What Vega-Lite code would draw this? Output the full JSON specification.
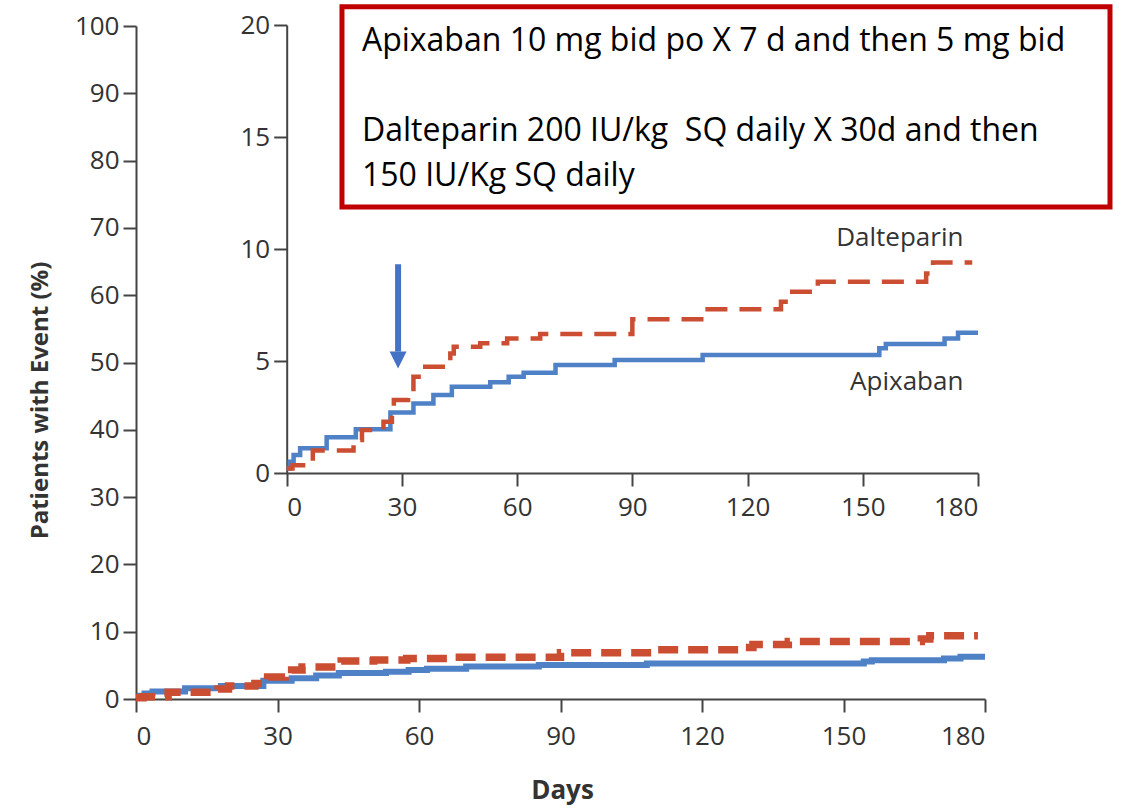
{
  "$schema": "https://vega.github.io/schema/vega-lite/v6.json",
  "width": 849,
  "height": 673,
  "autosize": {"type": "none"},
  "padding": {"left": 136, "top": 26, "right": 137, "bottom": 112},
  "background": "white",
  "config": {
    "view": {"stroke": null},
    "font": "Open Sans",
    "axis": {"grid": false, "domainColor": "#444", "domainWidth": 2, "tickColor": "#444", "tickWidth": 2, "tickSize": 13, "labelColor": "#333", "labelFontSize": 26, "labelFont": "Open Sans", "titleFont": "Open Sans", "titleColor": "#333"}
  },
  "datasets": {
    "apixaban": [{"day":0,"pct":0.2},{"day":0.8,"pct":0.5},{"day":1.8,"pct":0.8},{"day":3.5,"pct":1.1},{"day":10.4,"pct":1.6},{"day":18,"pct":1.95},{"day":27,"pct":2.7},{"day":33,"pct":3.1},{"day":38.2,"pct":3.48},{"day":43,"pct":3.85},{"day":53,"pct":4.05},{"day":57.8,"pct":4.3},{"day":61.7,"pct":4.48},{"day":70,"pct":4.82},{"day":85.4,"pct":5.04},{"day":108.3,"pct":5.27},{"day":154.3,"pct":5.57},{"day":156,"pct":5.76},{"day":171.3,"pct":6.01},{"day":174.8,"pct":6.26},{"day":180,"pct":6.26}],
    "dalteparin": [{"day":0,"pct":0.2},{"day":1.5,"pct":0.35},{"day":6.8,"pct":1.0},{"day":17.4,"pct":1.47},{"day":19.6,"pct":1.92},{"day":25.2,"pct":2.29},{"day":27.4,"pct":2.81},{"day":27.9,"pct":3.26},{"day":31.6,"pct":3.56},{"day":33,"pct":4.3},{"day":35.2,"pct":4.74},{"day":42.6,"pct":5.34},{"day":43.5,"pct":5.64},{"day":50.4,"pct":5.79},{"day":57.4,"pct":6.01},{"day":66,"pct":6.2},{"day":90,"pct":6.86},{"day":109.6,"pct":7.31},{"day":128.7,"pct":7.65},{"day":130.8,"pct":8.09},{"day":138.3,"pct":8.54},{"day":166.5,"pct":8.91},{"day":168.3,"pct":9.4},{"day":178.5,"pct":9.4}],
    "box": [{"x": 43.67, "x2": 206.5, "y": 102.87, "y2": 73.1}],
    "boxtext": [
      {"x": 47.9, "y": 96.3, "t": "Apixaban 10 mg bid po X 7 d and then 5 mg bid"},
      {"x": 47.9, "y": 82.9, "t": "Dalteparin 200 IU/kg\u00a0 SQ daily X 30d and then"},
      {"x": 47.9, "y": 76.2, "t": "150 IU/Kg SQ daily"}
    ],
    "labels": [
      {"name": "Dalteparin", "day": 176.2, "pct": 10.13},
      {"name": "Apixaban", "day": 176.2, "pct": 3.7}
    ],
    "arrow": [{"day": 29, "top": 9.32, "base": 5.42, "head": 5.04}]
  },
  "layer": [
    {
      "layer": [
        {
          "data": {"name": "apixaban"},
          "mark": {"type": "line", "interpolate": "step-after", "color": "#4f81c7", "strokeWidth": 6},
          "encoding": {
            "x": {"field": "day", "type": "quantitative", "scale": {"domain": [0, 180], "nice": false}, "axis": {"values": [0, 30, 60, 90, 120, 150, 180], "labelPadding": 11, "title": "Days", "titleFontSize": 26, "titleFontWeight": "bold", "titleX": 426, "titleY": 99, "titleBaseline": "alphabetic"}},
            "y": {"field": "pct", "type": "quantitative", "scale": {"domain": [0, 100], "nice": false}, "axis": {"values": [0, 10, 20, 30, 40, 50, 60, 70, 80, 90, 100], "labelPadding": 4, "title": "Patients with Event (%)", "titleFontSize": 24, "titleFontWeight": "bold", "titleX": -96, "titleY": 374, "titleBaseline": "middle", "titleAlign": "center", "titleAngle": -90}}
          }
        },
        {
          "data": {"name": "dalteparin"},
          "mark": {"type": "line", "interpolate": "step-after", "color": "#cc4e32", "strokeWidth": 7.5, "strokeDash": [20, 10]},
          "encoding": {
            "x": {"field": "day", "type": "quantitative", "title": "Days"},
            "y": {"field": "pct", "type": "quantitative", "title": "Patients with Event (%)"}
          }
        },
        {
          "data": {"name": "box"},
          "mark": {"type": "rect", "fill": "white", "stroke": "#c00000", "strokeWidth": 5},
          "encoding": {
            "x": {"field": "x", "type": "quantitative", "title": "Days"},
            "x2": {"field": "x2"},
            "y": {"field": "y", "type": "quantitative", "title": "Patients with Event (%)"},
            "y2": {"field": "y2"}
          }
        },
        {
          "data": {"name": "boxtext"},
          "mark": {"type": "text", "align": "left", "baseline": "alphabetic", "fontSize": 32, "color": "#000", "font": "Open Sans"},
          "encoding": {
            "x": {"field": "x", "type": "quantitative", "title": "Days"},
            "y": {"field": "y", "type": "quantitative", "title": "Patients with Event (%)"},
            "text": {"field": "t"}
          }
        }
      ]
    },
    {
      "layer": [
        {
          "data": {"name": "apixaban"},
          "mark": {"type": "line", "interpolate": "step-after", "color": "#4f81c7", "strokeWidth": 4.5},
          "encoding": {
            "x": {"field": "day", "type": "quantitative", "scale": {"domain": [0, 180], "range": [150.7, 842], "nice": false}, "axis": {"orient": "bottom", "offset": -226, "values": [0, 30, 60, 90, 120, 150, 180], "labelPadding": 8, "title": null}},
            "y": {"field": "pct", "type": "quantitative", "scale": {"domain": [0, 20], "range": [447, -1], "nice": false}, "axis": {"orient": "left", "offset": -150.7, "values": [0, 5, 10, 15, 20], "labelPadding": 4, "title": null}}
          }
        },
        {
          "data": {"name": "dalteparin"},
          "mark": {"type": "line", "interpolate": "step-after", "color": "#cc4e32", "strokeWidth": 4.5, "strokeDash": [22, 12]},
          "encoding": {
            "x": {"field": "day", "type": "quantitative"},
            "y": {"field": "pct", "type": "quantitative"}
          }
        },
        {
          "data": {"name": "arrow"},
          "mark": {"type": "rule", "color": "#4472c4", "strokeWidth": 6},
          "encoding": {
            "x": {"field": "day", "type": "quantitative"},
            "y": {"field": "top", "type": "quantitative"},
            "y2": {"field": "base"}
          }
        },
        {
          "data": {"name": "arrow"},
          "mark": {"type": "point", "shape": "M-1,-1L1,-1L0,1Z", "filled": true, "color": "#4472c4", "size": 289, "opacity": 1, "strokeWidth": 0},
          "encoding": {
            "x": {"field": "day", "type": "quantitative"},
            "y": {"field": "head", "type": "quantitative"}
          }
        },
        {
          "data": {"name": "labels"},
          "mark": {"type": "text", "align": "right", "baseline": "alphabetic", "fontSize": 26, "color": "#333", "font": "Open Sans"},
          "encoding": {
            "x": {"field": "day", "type": "quantitative"},
            "y": {"field": "pct", "type": "quantitative"},
            "text": {"field": "name"}
          }
        }
      ]
    }
  ],
  "resolve": {"scale": {"x": "independent", "y": "independent"}}
}
